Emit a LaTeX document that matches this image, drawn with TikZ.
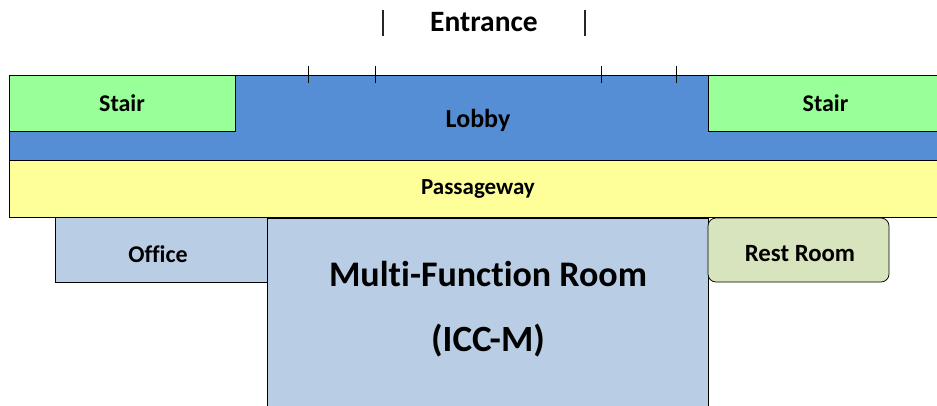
\documentclass[tikz,border=0pt]{standalone}
\usepackage{fontspec}
\setmainfont[RawFeature=-liga]{Carlito}
\definecolor{lobbyblue}{HTML}{558ED5}
\definecolor{stairgreen}{HTML}{99FF99}
\definecolor{passyellow}{HTML}{FFFF99}
\definecolor{roomblue}{HTML}{B9CDE5}
\definecolor{restgreen}{HTML}{D7E4BD}
\tikzset{
  room/.style={draw=black,line width=0.75pt,anchor=north west,inner sep=0pt,outer sep=0pt},
  caption/.style={inner sep=0pt,font=\bfseries\fontsize{24}{28}\selectfont},
  bigcaption/.style={inner sep=0pt,font=\bfseries\fontsize{36}{42}\selectfont},
  tick/.style={draw=black,line width=0.75pt},
  doorbar/.style={draw=black!85,line width=2pt},
}
\begin{document}
\begin{tikzpicture}[x=1pt,y=-1pt]
\useasboundingbox (0,0) rectangle (937,405);
% rooms
\node[room,fill=lobbyblue,minimum width=940pt,minimum height=85pt] (lobby) at (9,75) {};
\node[room,fill=stairgreen,minimum width=226pt,minimum height=56pt] (stairL) at (9,75) {};
\node[room,fill=stairgreen,minimum width=241pt,minimum height=56pt] (stairR) at (708,75) {};
\node[room,fill=passyellow,minimum width=940pt,minimum height=57pt] (pass) at (9,160) {};
\node[room,fill=roomblue,minimum width=441pt,minimum height=200pt] (mfr) at (267,218) {};
\node[room,fill=roomblue,minimum width=212pt,minimum height=65pt] (office) at (55,217) {};
\node[room,fill=restgreen,rounded corners=8pt,minimum width=181pt,minimum height=64pt] (rest) at (708,218) {};
% captions placed off-centre in their rooms
\node[caption] (stairLtext) at (122,103) {Stair};
\node[caption] (stairRtext) at (825.5,103) {Stair};
\node[caption,font=\bfseries\fontsize{26}{30}\selectfont] (lobbytext) at (478,120) {Lobby};
\node[caption,font=\bfseries\fontsize{23}{28}\selectfont] (passtext) at (478,189) {Passageway};
\node[caption] (officetext) at (158,254.5) {Office};
\node[caption,font=\bfseries\fontsize{24.8}{28}\selectfont] (resttext) at (800,254) {Rest Room};
\node[bigcaption] (mfrtext) at (488,274) {Multi-Function Room};
\node[bigcaption,font=\bfseries\fontsize{37}{42}\selectfont] (icctext) at (488,341) {(ICC-M)};
\node[inner sep=0pt,font=\bfseries\fontsize{29.5}{34}\selectfont] (entrance) at (484,22) {Entrance};
% door ticks
\foreach \n/\x in {a/308,b/375,c/601,d/676}{
  \coordinate (t\n) at (\x,66);
  \coordinate (u\n) at (\x,83);
  \draw[tick] (t\n) -- (u\n);
}
\coordinate (ba) at (383,10); \coordinate (bb) at (383,36);
\coordinate (bc) at (584.5,10); \coordinate (bd) at (584.5,36);
\draw[doorbar] (ba) -- (bb);
\draw[doorbar] (bc) -- (bd);
\end{tikzpicture}
\end{document}
